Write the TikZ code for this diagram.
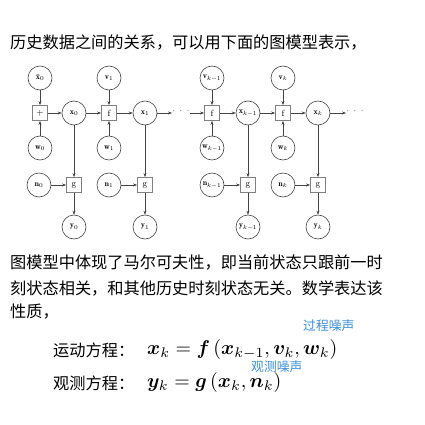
\documentclass[tikz,border=0pt]{standalone}
\usepackage{amsmath}
\usepackage{bm}
\usepackage{graphicx}
\usepackage{fontspec}
\newfontfamily\cjk{Noto Sans CJK SC}
\usetikzlibrary{arrows.meta}
\definecolor{linegray}{HTML}{444444}
\definecolor{notblue}{HTML}{3A8EDB}
\tikzset{
  var/.style={circle,draw=linegray,line width=0.6pt,minimum size=24pt,inner sep=0pt,font=\fontsize{8}{9}\selectfont},
  fbox/.style={rectangle,draw=gray,line width=0.8pt,minimum size=15pt,inner sep=0pt,font=\fontsize{9}{10}\selectfont},
  conn/.style={draw=linegray,line width=0.5pt,-{Stealth[length=4pt,width=3pt]}},
  txt/.style={anchor=west,inner sep=0pt,font=\cjk\fontsize{16.2}{18}\selectfont},
  eq/.style={anchor=west,inner sep=0pt,font=\fontsize{10}{12}\selectfont},
  note/.style={anchor=west,inner sep=0pt,text=notblue,font=\cjk\fontsize{12.8}{14}\selectfont},
}
\newcommand{\eqscale}[1]{\scalebox{1.99}{#1}}
\begin{document}
\begin{tikzpicture}[x=1pt,y=-1pt]
\useasboundingbox (0,0) rectangle (425,425);
\node[txt] (t1) at (10,43) {历史数据之间的关系，可以用下面的图模型表示，};
% top chain
\node[var] (xb0) at (40,78) {$\bar{\mathbf{x}}_0$};
\node[fbox] (p0) at (40,113) {$+$};
\node[var] (w0) at (40,148) {$\mathbf{w}_0$};
\node[var] (x0) at (74,113) {$\mathbf{x}_0$};
\node[fbox] (f1) at (109,113) {f};
\node[var] (v1) at (109,78) {$\mathbf{v}_1$};
\node[var] (w1) at (109,148) {$\mathbf{w}_1$};
\node[var] (x1) at (145,113) {$\mathbf{x}_1$};
\coordinate (d1) at (172,113);
\node[inner sep=0pt,font=\fontsize{9}{10}\selectfont] (dots1) at (181,111) {$\cdot\;\cdot\;\cdot$};
\coordinate (d2) at (190,113);
\node[fbox] (fk1) at (212,113) {f};
\node[var] (vk1) at (212,78) {$\mathbf{v}_{k-1}$};
\node[var] (wk1) at (212,148) {$\mathbf{w}_{k-1}$};
\node[var] (xk1) at (248,113) {$\mathbf{x}_{k-1}$};
\node[fbox] (fk) at (283,113) {f};
\node[var] (vk) at (283,78) {$\mathbf{v}_k$};
\node[var] (wk) at (283,148) {$\mathbf{w}_k$};
\node[var] (xk) at (318,113) {$\mathbf{x}_k$};
\coordinate (d3) at (346,113);
\node[inner sep=0pt,font=\fontsize{9}{10}\selectfont] (dots2) at (355,111) {$\cdot\;\cdot\;\cdot$};
% bottom
\node[var] (n0) at (39,185) {$\mathbf{n}_0$};
\node[fbox] (g0) at (74,185) {g};
\node[var] (y0) at (74,227) {$\mathbf{y}_0$};
\node[var] (n1) at (109,185) {$\mathbf{n}_1$};
\node[fbox] (g1) at (145,185) {g};
\node[var] (y1) at (145,227) {$\mathbf{y}_1$};
\node[var] (nk1) at (212,185) {$\mathbf{n}_{k-1}$};
\node[fbox] (gk1) at (248,185) {g};
\node[var] (yk1) at (248,227) {$\mathbf{y}_{k-1}$};
\node[var] (nk) at (283,185) {$\mathbf{n}_k$};
\node[fbox] (gk) at (318,185) {g};
\node[var] (yk) at (318,227) {$\mathbf{y}_k$};
% connectors
\draw[conn] (xb0) -- (p0);
\draw[conn] (w0) -- (p0);
\draw[conn] (p0) -- (x0);
\draw[conn] (x0) -- (f1);
\draw[conn] (v1) -- (f1);
\draw[conn] (w1) -- (f1);
\draw[conn] (f1) -- (x1);
\draw[conn] (x1) -- (d1);
\draw[conn] (d2) -- (fk1);
\draw[conn] (vk1) -- (fk1);
\draw[conn] (wk1) -- (fk1);
\draw[conn] (fk1) -- (xk1);
\draw[conn] (xk1) -- (fk);
\draw[conn] (vk) -- (fk);
\draw[conn] (wk) -- (fk);
\draw[conn] (fk) -- (xk);
\draw[conn] (xk) -- (d3);
\draw[conn] (x0) -- (g0);
\draw[conn] (n0) -- (g0);
\draw[conn] (g0) -- (y0);
\draw[conn] (x1) -- (g1);
\draw[conn] (n1) -- (g1);
\draw[conn] (g1) -- (y1);
\draw[conn] (xk1) -- (gk1);
\draw[conn] (nk1) -- (gk1);
\draw[conn] (gk1) -- (yk1);
\draw[conn] (xk) -- (gk);
\draw[conn] (nk) -- (gk);
\draw[conn] (gk) -- (yk);
% text
\node[txt] (t2) at (10,263) {图模型中体现了马尔可夫性，即当前状态只跟前一时};
\node[txt] (t3) at (10,288) {刻状态相关，和其他历史时刻状态无关。数学表达该};
\node[txt] (t4) at (10,312) {性质，};
\node[txt] (e1l) at (53,350) {运动方程：};
\node[txt] (e2l) at (53,383) {观测方程：};
\node[eq] (e1) at (147,350) {\eqscale{$\bm{x}_k=\bm{f}\left(\bm{x}_{k-1},\bm{v}_k,\bm{w}_k\right)$}};
\node[eq] (e2) at (147,383) {\eqscale{$\bm{y}_k=\bm{g}\left(\bm{x}_k,\bm{n}_k\right)$}};
\node[note] (a1) at (303,326) {过程噪声};
\node[note] (a2) at (251,367) {观测噪声};
\end{tikzpicture}
\end{document}
